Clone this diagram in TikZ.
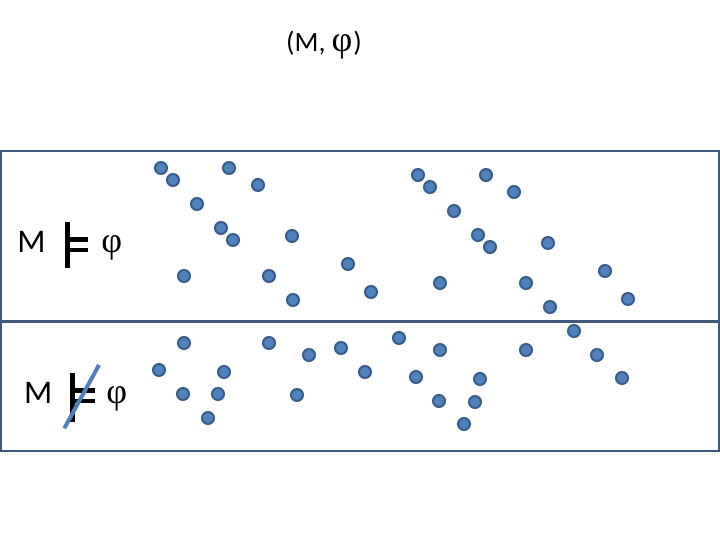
\documentclass[tikz,border=0pt]{standalone}
\usepackage{fontspec}
\setmainfont{Carlito}
\newfontfamily\phifont{Liberation Serif}
\newcommand{\bigphi}{{\phifont\fontsize{36}{36}\selectfont φ}}
\definecolor{boxline}{HTML}{41597D}
\definecolor{dotfill}{HTML}{4F81BD}
\definecolor{dotline}{HTML}{385D8A}
\definecolor{slash}{HTML}{4F81BD}
\begin{document}
\begin{tikzpicture}[x=1pt,y=-1pt,
  dot/.style={circle,draw=dotline,fill=dotfill,line width=2pt,minimum size=12pt,inner sep=0pt},
  lbl/.style={inner sep=0pt,anchor=base,font=\fontsize{33}{36}\selectfont},
  ttl/.style={inner sep=0pt,anchor=base,font=\fontsize{28}{30}\selectfont},
  bar/.style={line width=4.5pt,black},
  sectionline/.style={draw=boxline,line width=2.5pt}]
\useasboundingbox (0,0) rectangle (720,540);
% title
\node[ttl] (title) at (324,52) {(M,\hspace{6pt}\bigphi\hspace{1pt})};
% boxes
\coordinate (tl) at (1,151);
\coordinate (br) at (719,451);
\coordinate (ml) at (1,321.3);
\coordinate (mr) at (719,321.3);
\draw[sectionline] (tl) rectangle (br);
\draw[sectionline] (ml) -- (mr);
% top label
\node[lbl] (m1) at (31.5,252) {M};
\node[inner sep=0pt,anchor=base] (phi1) at (111.7,252) {\bigphi};
\coordinate (v1a) at (67.5,222);
\coordinate (v1b) at (67.5,268);
\coordinate (h1a) at (67.5,239.5);
\coordinate (h1b) at (88.3,239.5);
\coordinate (h1c) at (67.5,250);
\coordinate (h1d) at (88.3,250);
\draw[bar] (v1a) -- (v1b);
\draw[bar] (h1a) -- (h1b);
\draw[bar] (h1c) -- (h1d);
% bottom label
\node[lbl] (m2) at (38.3,403) {M};
\node[inner sep=0pt,anchor=base] (phi2) at (116.7,403) {\bigphi};
\coordinate (v2a) at (72.5,373);
\coordinate (v2b) at (72.5,422);
\coordinate (h2a) at (72.5,390.5);
\coordinate (h2b) at (95,390.5);
\coordinate (h2c) at (72.5,401);
\coordinate (h2d) at (95,401);
\draw[bar] (v2a) -- (v2b);
\draw[bar] (h2a) -- (h2b);
\draw[bar] (h2c) -- (h2d);
\coordinate (s1) at (64.3,428.3);
\coordinate (s2) at (99,365);
\draw[slash,line width=4pt] (s1) -- (s2);
% dots
\foreach \x/\y [count=\i] in {
161/168,173/180,229/168,258/185,197/204,221/228,233/240,292/236,184/276,269/276,293/300,348/264,371/292,
418/175,430/187,486/175,514/192,454/211,478/235,490/247,548/243,440/283,526/283,550/307,605/271,628/299,
184/343,159/370,224/372,183/394,218/394,208/418,269/343,309/355,341/348,365/372,297/395,399/338,416/377,
440/350,439/401,480/379,475/402,464/424,526/350,574/331,597/355,622/378}
  \node[dot] (d\i) at (\x,\y) {};
\end{tikzpicture}
\end{document}
